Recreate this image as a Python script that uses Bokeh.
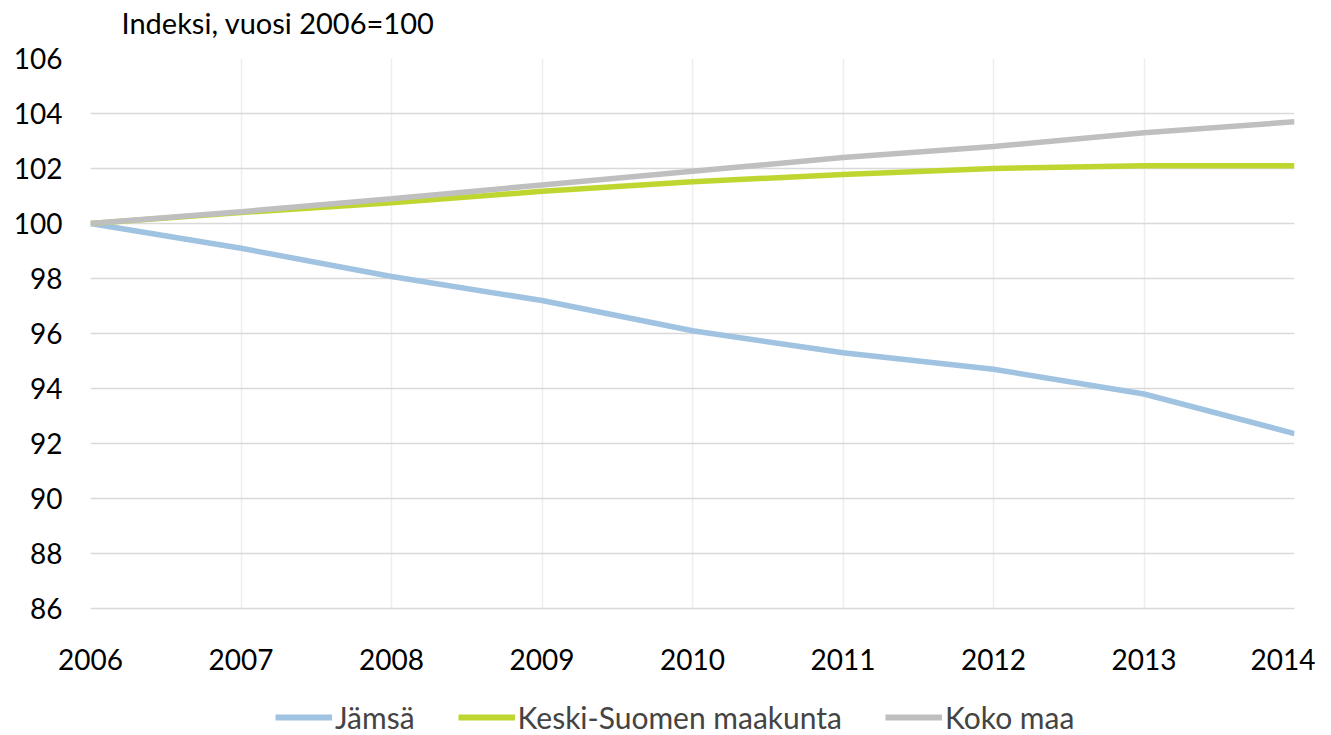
from bokeh.plotting import figure
from bokeh.layouts import column
from bokeh.models import Legend, LegendItem, FixedTicker, Range1d, Label
from bokeh.embed import file_html
from bokeh.resources import INLINE

years = [2006, 2007, 2008, 2009, 2010, 2011, 2012, 2013, 2014]
jamsa = [100.0, 99.1, 98.07, 97.2, 96.1, 95.3, 94.7, 93.8, 92.36]
keski = [100.0, 100.4, 100.75, 101.17, 101.52, 101.78, 102.0, 102.1, 102.1]
koko = [100.0, 100.43, 100.9, 101.4, 101.9, 102.4, 102.8, 103.3, 103.7]
names = ["Jämsä", "Keski-Suomen maakunta", "Koko maa"]
colors = ["#9fc3e0", "#c0d630", "#bfbfbf"]
y_ticks = list(range(86, 107, 2))
title_text = "Indeksi, vuosi 2006=100"

FONT = "Lato"
W = 1315
BL, BR = 90, 21
FW = W - BL - BR  # frame width shared by all strips (column aligns frames)

# title strip
tf = figure(width=W, height=40, output_backend="svg", toolbar_location=None,
            x_range=Range1d(0, FW), y_range=Range1d(0, 40),
            x_axis_location=None, y_axis_location=None,
            min_border_left=BL, min_border_right=BR, min_border_top=0, min_border_bottom=0,
            outline_line_color=None)
tf.grid.visible = False
tf.add_layout(Label(x=31, y=18, text=title_text, text_font=FONT, text_font_size="29px",
                    text_color="black", text_baseline="middle", text_align="left"))

p = figure(width=W, height=640, output_backend="svg", toolbar_location=None,
           x_range=Range1d(2006, 2014), y_range=Range1d(86, 106),
           min_border_left=BL, min_border_right=BR, min_border_top=18, min_border_bottom=72)
p.outline_line_color = None
p.background_fill_color = "white"

p.xaxis.ticker = FixedTicker(ticks=years)
p.yaxis.ticker = FixedTicker(ticks=y_ticks)
for ax in (p.xaxis, p.yaxis):
    ax.major_label_text_font = FONT
    ax.major_label_text_font_size = "28px"
    ax.major_label_text_color = "black"
    ax.major_tick_line_color = None
    ax.minor_tick_line_color = None
p.yaxis.axis_line_color = None
p.xaxis.axis_line_color = "#d9d9d9"
p.xaxis.axis_line_width = 1.5
p.xaxis.major_label_standoff = 34
p.yaxis.major_label_standoff = 22

p.ygrid.grid_line_color = "#d9d9d9"
p.ygrid.grid_line_width = 1.5
p.xgrid.grid_line_color = "#eeeeee"
p.xgrid.grid_line_width = 1.5

rs = []
for vals, c in zip([jamsa, keski, koko], colors):
    r = p.line(years, vals, line_color=c, line_width=5.5)
    rs.append(r)

# legend strip (dummy lines lie outside the visible range)
lf = figure(width=W, height=55, output_backend="svg", toolbar_location=None,
            x_range=Range1d(0, 1), y_range=Range1d(0, 1),
            x_axis_location=None, y_axis_location=None,
            min_border_left=BL, min_border_right=BR, min_border_top=0, min_border_bottom=0,
            outline_line_color=None)
lf.grid.visible = False
lrs = [lf.line([5, 6], [5, 6], line_color=c, line_width=6) for c in colors]
legend = Legend(items=[LegendItem(label=n, renderers=[r]) for n, r in zip(names, lrs)],
                orientation="horizontal", location=(185, 0),
                label_text_font=FONT, label_text_font_size="30px",
                glyph_width=57, glyph_height=20, label_standoff=3, spacing=43,
                border_line_color=None, background_fill_alpha=0, padding=0, margin=0)
lf.add_layout(legend)

layout = column(tf, p, lf, spacing=0)
open("out.html", "w").write(file_html(layout, INLINE))
